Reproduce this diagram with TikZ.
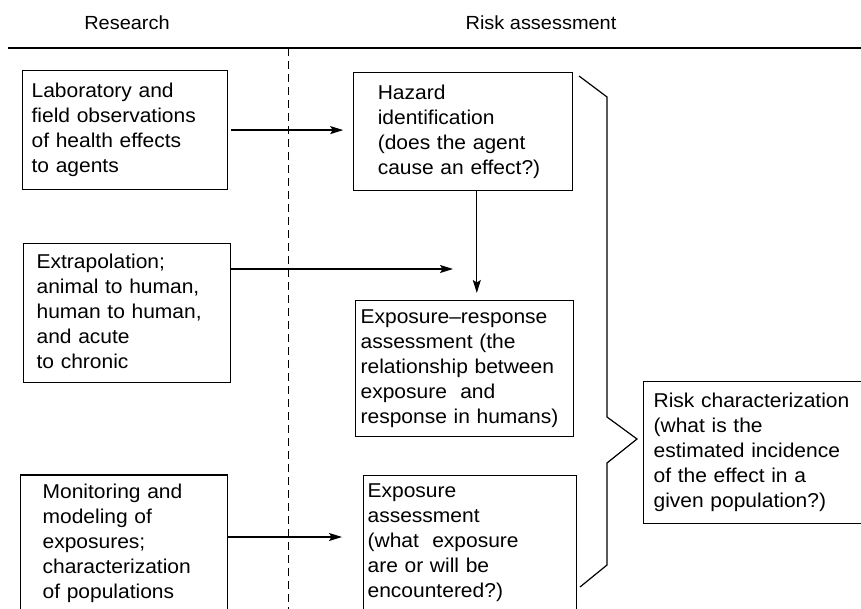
\documentclass[tikz,border=0pt]{standalone}
\usepackage{fontspec}
\setmainfont{Liberation Sans}[FakeStretch=1.05]
\usetikzlibrary{arrows.meta,positioning}

\begin{document}
\begin{tikzpicture}[
  x=1pt, y=-1pt,
  blk/.style={draw, line width=1.2pt, anchor=north west, align=left, inner ysep=0pt,
    font=\fontsize{20pt}{25pt}\selectfont,
    execute at begin node=\strut, execute at end node=\strut},
  arr/.style={-{Stealth[length=13pt, width=8pt, inset=2.5pt]}, line width=1.2pt},
  hdr/.style={anchor=base, font=\fontsize{19pt}{23pt}\selectfont}
]
\useasboundingbox (0,0) rectangle (861,609);
\clip (0,0) rectangle (861,609);

\node[hdr] (res) at (127,30) {Research};
\node[hdr] (ra) at (541,30) {Risk assessment};
\draw[line width=2.2pt] (8,48) -- (861,48);
\draw[line width=0.9pt, dash pattern=on 8pt off 5pt] (288,48) -- (288,609);

\node[blk, minimum width=205pt, text width=187pt, inner xsep=9pt, minimum height=119pt] (lab) at (22,70) {Laboratory and\\field observations\\of health effects\\to agents};
\node[blk, below=53pt of lab.south west, anchor=north west, xshift=1pt, minimum width=207pt, text width=181pt, inner xsep=13pt, minimum height=139pt] (extrap) {Extrapolation;\\animal to human,\\human to human,\\and acute\\to chronic};
\node[blk, below=91pt of extrap.south west, anchor=north west, xshift=-3pt, minimum width=207pt, text width=163pt, inner xsep=22pt, minimum height=161pt] (mon) {Monitoring and\\modeling of\\exposures;\\characterization\\of populations\\};

\node[blk, right=125pt of lab.north east, anchor=north west, yshift=-2pt, minimum width=219pt, text width=171pt, inner xsep=24pt, minimum height=118pt] (haz) {Hazard\\identification\\(does the agent\\cause an effect?)};
\node[blk, minimum width=218pt, text width=208pt, inner xsep=5pt, minimum height=136pt] (expresp) at (355,300) {Exposure\textendash response\\assessment (the\\relationship between\\exposure\ \ and\\response in humans)};
\node[blk, minimum width=213pt, text width=205pt, inner xsep=4pt, minimum height=159pt] (expass) at (363,475) {Exposure\\assessment\\(what\ \ exposure\\are or will be\\encountered?)\\};
\node[blk, minimum width=232pt, text width=212pt, inner xsep=10pt, minimum height=142pt] (risk) at (643,381) {Risk characterization\\(what is the\\estimated incidence\\of the effect in a\\given population?)};

\coordinate (xtip) at (453,269);
\coordinate (mtip) at (342,537);
\draw[arr, shorten <=3pt, shorten >=10pt] (lab.east) -- (lab.east -| haz.west);
\draw[arr] (extrap.east |- xtip) -- (xtip);
\draw[arr, shorten >=7pt] ([xshift=13.5pt]haz.south) -- ([xshift=13.5pt]haz.south |- expresp.north);
\draw[arr] (mon.east |- mtip) -- (mtip);

% brace gathering the three assessment steps
\draw[line width=1.2pt] (579,76) -- (607,97) -- (607,417) -- (637,439) -- (607,463) -- (607,565) -- (580,587);
\end{tikzpicture}
\end{document}
